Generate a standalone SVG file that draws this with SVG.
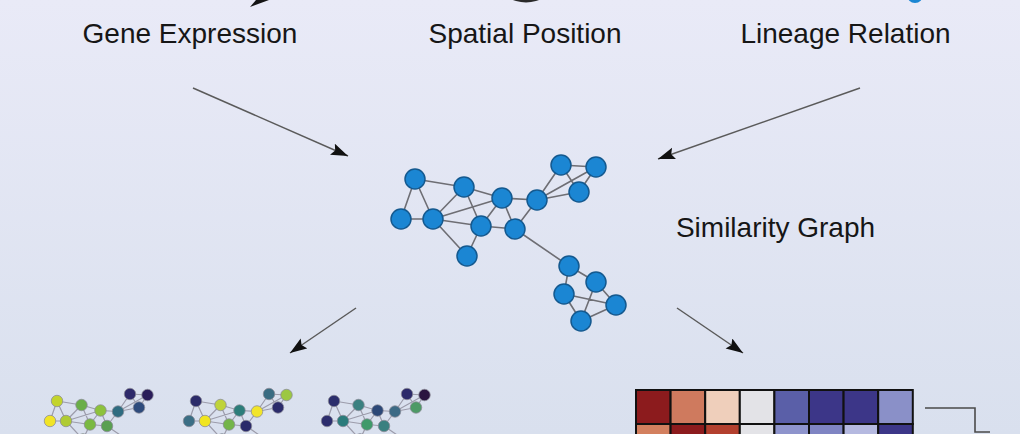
<svg xmlns="http://www.w3.org/2000/svg" xmlns:xlink="http://www.w3.org/1999/xlink" width="1020" height="434" viewBox="0 0 1020 434">
<defs>
<linearGradient id="bg" x1="0" y1="0" x2="0" y2="1">
<stop offset="0" stop-color="#e9eaf7"/>
<stop offset="1" stop-color="#d9e0ee"/>
</linearGradient>
<marker id="ah" markerUnits="userSpaceOnUse" markerWidth="20" markerHeight="14" refX="17" refY="6" orient="auto">
<path d="M0,0 L17,6 L0,12 L3,6 Z" fill="#111"/>
</marker>
<path id="gedges" d="M415,179 L401,219 M415,179 L433,219 M415,179 L464,187 M401,219 L433,219 M433,219 L464,187 M433,219 L502,198 M433,219 L481,226 M433,219 L467,256 M464,187 L502,198 M464,187 L481,226 M481,226 L502,198 M481,226 L515,229 M481,226 L467,256 M502,198 L537,200 M502,198 L515,229 M515,229 L537,200 M537,200 L561,165 M537,200 L596,167 M537,200 L579,192 M561,165 L596,167 M561,165 L579,192 M596,167 L579,192 M515,229 L569,266 M569,266 L596,282 M569,266 L564,294 M596,282 L616,305 M596,282 L581,321 M564,294 L616,305 M564,294 L581,321 M581,321 L616,305"/>
</defs>
<style>
.lbl{font-family:"Liberation Sans",Arial,sans-serif;font-size:28px;fill:#161616;text-anchor:middle}
.conn{stroke:#5a5a5a;stroke-width:1.5;fill:none;marker-end:url(#ah)}
.edge{stroke:#6e6e74;stroke-width:1.6;fill:none}
.medge{stroke:#9c9cab;stroke-width:2.4;fill:none}
.nd circle{fill:#1b86d3;stroke:#14598f;stroke-width:1.5}
.mn circle{stroke:#8a8a96;stroke-width:1.5}
.cell{stroke:#111;stroke-width:2}
.dendro{stroke:#4a4a4a;stroke-width:1.6;fill:none}
</style>
<rect width="1020" height="434" fill="url(#bg)"/>

<!-- cut-off top shapes -->
<g id="top-shapes">
<path d="M250,7 L256,0 L269,0 Z" fill="#151515"/>
<ellipse cx="526" cy="-16" rx="26" ry="18.5" fill="#2a2a2a"/>
<circle cx="915" cy="-5" r="8" fill="#1b86d3"/>
</g>

<g id="label-gene"><text class="lbl" x="190" y="43">Gene Expression</text></g>
<g id="label-spatial"><text class="lbl" x="525" y="43">Spatial Position</text></g>
<g id="label-lineage"><text class="lbl" x="845.5" y="43">Lineage Relation</text></g>

<g id="connectors">
<line class="conn" x1="193" y1="88" x2="348" y2="156"/>
<line class="conn" x1="860" y1="88" x2="658" y2="159"/>
<line class="conn" x1="356" y1="308" x2="290" y2="353"/>
<line class="conn" x1="677" y1="308" x2="743" y2="353"/>
</g>

<g id="similarity-graph">
<use xlink:href="#gedges" class="edge"/>
<g class="nd">
<circle cx="415" cy="179" r="10"/><circle cx="401" cy="219" r="10"/><circle cx="433" cy="219" r="10"/>
<circle cx="464" cy="187" r="10"/><circle cx="481" cy="226" r="10"/><circle cx="467" cy="256" r="10"/>
<circle cx="502" cy="198" r="10"/><circle cx="515" cy="229" r="10"/><circle cx="537" cy="200" r="10"/>
<circle cx="561" cy="165" r="10"/><circle cx="596" cy="167" r="10"/><circle cx="579" cy="192" r="10"/>
<circle cx="569" cy="266" r="10"/><circle cx="596" cy="282" r="10"/><circle cx="564" cy="294" r="10"/>
<circle cx="616" cy="305" r="10"/><circle cx="581" cy="321" r="10"/>
</g>
<text class="lbl" x="775.5" y="237">Similarity Graph</text>
</g>

<g id="mini-graph-1" transform="translate(-150.5,311.5) scale(0.5)">
<use xlink:href="#gedges" class="medge"/>
<g class="mn">
<circle cx="415" cy="179" r="11.5" fill="#c3d42c"/><circle cx="401" cy="219" r="11.5" fill="#f1e426"/><circle cx="433" cy="219" r="11.5" fill="#afcb34"/>
<circle cx="464" cy="187" r="11.5" fill="#6aae48"/><circle cx="481" cy="226" r="11.5" fill="#7ab943"/><circle cx="467" cy="256" r="11.5" fill="#5fa64c"/>
<circle cx="502" cy="198" r="11.5" fill="#8dc23c"/><circle cx="515" cy="229" r="11.5" fill="#5a9f52"/><circle cx="537" cy="200" r="11.5" fill="#2f6c80"/>
<circle cx="561" cy="165" r="11.5" fill="#2e2a6a"/><circle cx="596" cy="167" r="11.5" fill="#2a1d5a"/><circle cx="579" cy="192" r="11.5" fill="#2e4b7c"/>
<circle cx="569" cy="266" r="11.5" fill="#3a7c80"/><circle cx="596" cy="282" r="11.5" fill="#2e2a6a"/><circle cx="564" cy="294" r="11.5" fill="#5fa64c"/>
<circle cx="616" cy="305" r="11.5" fill="#2e4b7c"/><circle cx="581" cy="321" r="11.5" fill="#3a7c80"/>
</g>
</g>

<g id="mini-graph-2" transform="translate(-11.5,311.5) scale(0.5)">
<use xlink:href="#gedges" class="medge"/>
<g class="mn">
<circle cx="415" cy="179" r="11.5" fill="#2c2b69"/><circle cx="401" cy="219" r="11.5" fill="#3b6e85"/><circle cx="433" cy="219" r="11.5" fill="#f0e520"/>
<circle cx="464" cy="187" r="11.5" fill="#bfd33a"/><circle cx="481" cy="226" r="11.5" fill="#74b54a"/><circle cx="467" cy="256" r="11.5" fill="#3b6e85"/>
<circle cx="502" cy="198" r="11.5" fill="#2c7d7a"/><circle cx="515" cy="229" r="11.5" fill="#2a2a6a"/><circle cx="537" cy="200" r="11.5" fill="#f2e52a"/>
<circle cx="561" cy="165" r="11.5" fill="#3a6c82"/><circle cx="596" cy="167" r="11.5" fill="#9cc843"/><circle cx="579" cy="192" r="11.5" fill="#2b2b6b"/>
<circle cx="569" cy="266" r="11.5" fill="#74b54a"/><circle cx="596" cy="282" r="11.5" fill="#2c7d7a"/><circle cx="564" cy="294" r="11.5" fill="#2a2a6a"/>
<circle cx="616" cy="305" r="11.5" fill="#bfd33a"/><circle cx="581" cy="321" r="11.5" fill="#3b6e85"/>
</g>
</g>

<g id="mini-graph-3" transform="translate(126.5,311.5) scale(0.5)">
<use xlink:href="#gedges" class="medge"/>
<g class="mn">
<circle cx="415" cy="179" r="11.5" fill="#2c2e6c"/><circle cx="401" cy="219" r="11.5" fill="#2c2d6d"/><circle cx="433" cy="219" r="11.5" fill="#2b7b7b"/>
<circle cx="464" cy="187" r="11.5" fill="#3a8080"/><circle cx="481" cy="226" r="11.5" fill="#3f9a6a"/><circle cx="467" cy="256" r="11.5" fill="#2c4877"/>
<circle cx="502" cy="198" r="11.5" fill="#2c4877"/><circle cx="515" cy="229" r="11.5" fill="#3a8080"/><circle cx="537" cy="200" r="11.5" fill="#3c6a85"/>
<circle cx="561" cy="165" r="11.5" fill="#2c2a6a"/><circle cx="596" cy="167" r="11.5" fill="#2a1440"/><circle cx="579" cy="192" r="11.5" fill="#4e9a66"/>
<circle cx="569" cy="266" r="11.5" fill="#3f9a6a"/><circle cx="596" cy="282" r="11.5" fill="#2c2a6a"/><circle cx="564" cy="294" r="11.5" fill="#3a8080"/>
<circle cx="616" cy="305" r="11.5" fill="#2c4877"/><circle cx="581" cy="321" r="11.5" fill="#3c6a85"/>
</g>
</g>

<g id="heatmap">
<rect class="cell" x="636" y="390" width="34.6" height="34" fill="#8c1b1d"/>
<rect class="cell" x="670.6" y="390" width="34.6" height="34" fill="#cf7a5e"/>
<rect class="cell" x="705.2" y="390" width="34.6" height="34" fill="#efcfbb"/>
<rect class="cell" x="739.8" y="390" width="34.6" height="34" fill="#e3e3e7"/>
<rect class="cell" x="774.4" y="390" width="34.6" height="34" fill="#5a5fa8"/>
<rect class="cell" x="809" y="390" width="34.6" height="34" fill="#3c3688"/>
<rect class="cell" x="843.6" y="390" width="34.6" height="34" fill="#3c3688"/>
<rect class="cell" x="878.2" y="390" width="34.6" height="34" fill="#8a90c8"/>
<rect class="cell" x="636" y="424" width="34.6" height="34" fill="#d3805f"/>
<rect class="cell" x="670.6" y="424" width="34.6" height="34" fill="#8c1b1d"/>
<rect class="cell" x="705.2" y="424" width="34.6" height="34" fill="#b3402e"/>
<rect class="cell" x="739.8" y="424" width="34.6" height="34" fill="#e3e3e7"/>
<rect class="cell" x="774.4" y="424" width="34.6" height="34" fill="#8e94cc"/>
<rect class="cell" x="809" y="424" width="34.6" height="34" fill="#7f85c3"/>
<rect class="cell" x="843.6" y="424" width="34.6" height="34" fill="#b5b9e0"/>
<rect class="cell" x="878.2" y="424" width="34.6" height="34" fill="#3c3688"/>
</g>

<g id="dendrogram">
<path class="dendro" d="M925,408 H975 V432 H990"/>
</g>
</svg>
